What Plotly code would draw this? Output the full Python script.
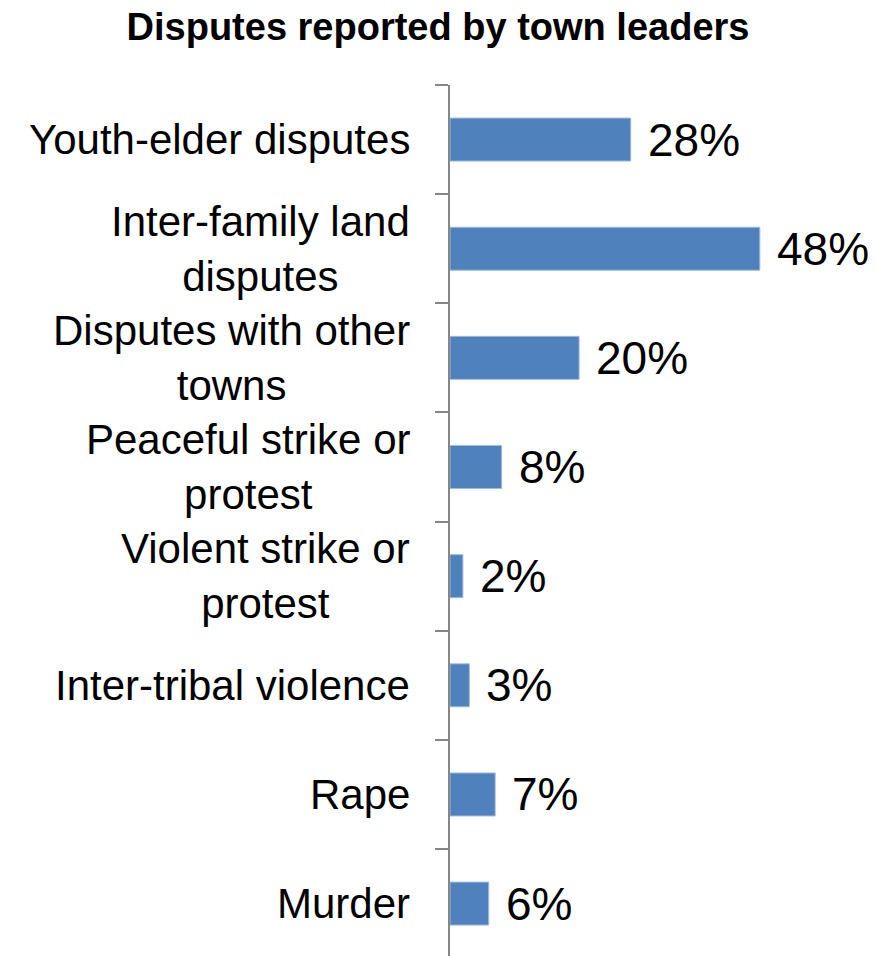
import plotly.graph_objects as go

categories = [
    "Youth-elder disputes",
    "Inter-family land<br>disputes",
    "Disputes with other<br>towns",
    "Peaceful strike or<br>protest",
    "Violent strike or<br>protest",
    "Inter-tribal violence",
    "Rape",
    "Murder",
]
values = [28, 48, 20, 8, 2, 3, 7, 6]
value_labels = ["28%", "48%", "20%", "8%", "2%", "3%", "7%", "6%"]

FONT = "Liberation Sans, Arial, sans-serif"
AXIS_GREY = "#878787"

fig = go.Figure()
fig.add_trace(go.Bar(
    x=values,
    y=categories,
    orientation="h",
    marker=dict(color="#4F81BD", line=dict(color="#9fbbe0", width=1)),
    hoverinfo="skip",
))

annotations = []
for cat, v, lab in zip(categories, values, value_labels):
    annotations.append(dict(
        x=v, y=cat, xref="x", yref="y", text=lab, showarrow=False,
        xanchor="left", yanchor="middle", xshift=15,
        font=dict(family=FONT, size=46, color="black"),
    ))
    annotations.append(dict(
        x=0, y=cat, xref="x", yref="y", text=cat, showarrow=False,
        xanchor="right", yanchor="middle", xshift=-38, align="center",
        font=dict(family=FONT, size=42, color="black"),
    ))

fig.update_layout(
    width=868, height=948,
    margin=dict(l=442, r=0, t=77, b=0),
    paper_bgcolor="white", plot_bgcolor="white",
    showlegend=False,
    bargap=0.606,
    title=dict(
        text="<b>Disputes reported by town leaders</b>",
        x=430 / 868, xref="container", xanchor="center",
        y=1 - 19 / 948, yref="container", yanchor="middle",
        font=dict(family=FONT, size=38, color="black"),
    ),
    xaxis=dict(visible=False, range=[0, 66], fixedrange=True),
    yaxis=dict(
        type="category",
        categoryorder="array", categoryarray=categories,
        range=[7.48, -0.5],
        showticklabels=False,
        ticks="outside", tickson="boundaries",
        ticklen=13, tickwidth=2, tickcolor=AXIS_GREY,
        showline=True, linecolor=AXIS_GREY, linewidth=2,
        showgrid=False, zeroline=False,
    ),
    annotations=annotations,
)

fig.write_html("out.html")
